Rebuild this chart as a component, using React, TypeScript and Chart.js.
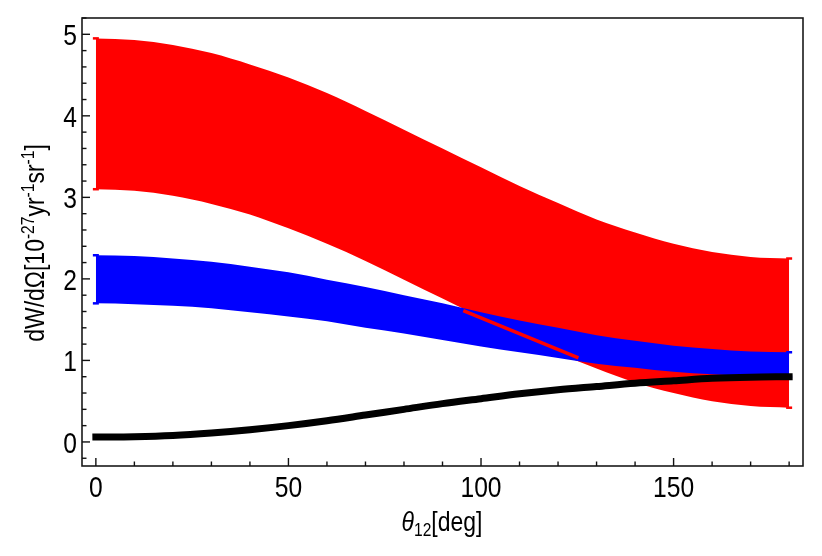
import React, { useEffect, useRef } from "react";
import { Chart, registerables } from "chart.js";

Chart.register(...registerables);

// ---- data ----
const theta = [0, 10, 20, 30, 40, 50, 60, 70, 80, 90, 100, 110, 120, 130, 140, 150, 160, 170, 180];
const redUpper = [4.95, 4.93, 4.87, 4.77, 4.63, 4.47, 4.28, 4.06, 3.83, 3.6, 3.37, 3.14, 2.93, 2.73, 2.57, 2.43, 2.33, 2.27, 2.25];
const redLower = [3.1, 3.08, 3.02, 2.92, 2.79, 2.62, 2.43, 2.22, 1.99, 1.76, 1.53, 1.3, 1.09, 0.9, 0.73, 0.6, 0.5, 0.44, 0.42];
const blueUpper = [2.29, 2.28, 2.25, 2.21, 2.15, 2.08, 1.99, 1.9, 1.8, 1.7, 1.59, 1.49, 1.4, 1.31, 1.24, 1.18, 1.14, 1.11, 1.1];
const blueLower = [1.7, 1.69, 1.67, 1.64, 1.59, 1.54, 1.48, 1.4, 1.33, 1.25, 1.17, 1.1, 1.03, 0.96, 0.91, 0.86, 0.83, 0.81, 0.8];
const blackCurve = [0.06, 0.065, 0.08, 0.11, 0.15, 0.2, 0.26, 0.33, 0.4, 0.47, 0.53, 0.59, 0.64, 0.68, 0.72, 0.75, 0.78, 0.795, 0.8];
const sliverTheta = [95.4, 125.3];
const sliverValues = [1.61, 1.03];

const xTickValues = [0, 50, 100, 150];
const yTickValues = [0, 1, 2, 3, 4, 5];

const FONT = "'Liberation Sans', Arial, sans-serif";
const NARROW = 0.82;
const RED = "#ff0000";
const BLUE = "#0000ff";

const toPts = (xs: number[], ys: number[]) => xs.map((x, i) => ({ x, y: ys[i] }));

type Seg = { t: string; size: number; dy?: number; italic?: boolean };

// draws text horizontally compressed (narrow Helvetica look); align: 0 = left, 0.5 = center, 1 = right
function drawRich(ctx: CanvasRenderingContext2D, segs: Seg[], x0: number, baseY: number, align = 0.5) {
  let total = 0;
  const widths = segs.map((s) => {
    ctx.font = `${s.italic ? "italic " : ""}${s.size}px ${FONT}`;
    const w = ctx.measureText(s.t).width;
    total += w;
    return w;
  });
  ctx.save();
  ctx.translate(x0, baseY);
  ctx.scale(NARROW, 1);
  let x = -total * align;
  ctx.textBaseline = "alphabetic";
  ctx.textAlign = "left";
  segs.forEach((s, i) => {
    ctx.font = `${s.italic ? "italic " : ""}${s.size}px ${FONT}`;
    ctx.fillText(s.t, x, s.dy || 0);
    x += widths[i];
  });
  ctx.restore();
}

const decorPlugin = {
  id: "decor",
  afterDatasetDraw(chart: any, args: any) {
    const ds = chart.data.datasets[args.index] as any;
    if (!ds.capColor) return;
    const { ctx } = chart;
    const xs = chart.scales.x;
    const ys = chart.scales.y;
    const lowerDs = chart.data.datasets[args.index + 1] as any;
    ctx.save();
    ctx.strokeStyle = ds.capColor;
    ctx.lineWidth = 2.5;
    const ends = [0, ds.data.length - 1];
    ends.forEach((i) => {
      const px = xs.getPixelForValue(ds.data[i].x);
      [ds.data[i].y, lowerDs.data[i].y].forEach((v: number) => {
        const py = ys.getPixelForValue(v);
        ctx.beginPath();
        ctx.moveTo(px - 3, py);
        ctx.lineTo(px + 3, py);
        ctx.stroke();
      });
    });
    ctx.restore();
  },
  afterDraw(chart: any) {
    const { ctx, chartArea: a } = chart;
    const xs = chart.scales.x;
    const ys = chart.scales.y;
    ctx.save();
    ctx.strokeStyle = "#1a1a1a";
    ctx.lineWidth = 1.6;
    ctx.strokeRect(a.left, a.top, a.right - a.left, a.bottom - a.top);
    ctx.lineWidth = 1.4;
    ctx.strokeStyle = "#111";
    for (let v = 0; v <= 180; v += 10) {
      const px = xs.getPixelForValue(v);
      const len = v % 50 === 0 ? 8 : 4.5;
      ctx.beginPath();
      ctx.moveTo(px, a.bottom);
      ctx.lineTo(px, a.bottom - len);
      ctx.stroke();
    }
    for (let k = -1; k <= 26; k++) {
      const v = k * 0.2;
      if (v < ys.min || v > ys.max) continue;
      const py = ys.getPixelForValue(v);
      const len = k % 5 === 0 ? 8 : 4.5;
      ctx.beginPath();
      ctx.moveTo(a.left, py);
      ctx.lineTo(a.left + len, py);
      ctx.stroke();
    }
    ctx.fillStyle = "#000";
    // tick labels
    xTickValues.forEach((v) => {
      drawRich(ctx, [{ t: String(v), size: 30 }], xs.getPixelForValue(v), a.bottom + 31, 0.5);
    });
    yTickValues.forEach((v) => {
      drawRich(ctx, [{ t: String(v), size: 30 }], a.left - 5, ys.getPixelForValue(v) + 11, 1);
    });
    // x title
    drawRich(
      ctx,
      [
        { t: "θ", size: 28, italic: true },
        { t: "12", size: 19, dy: 5 },
        { t: "[deg]", size: 28 },
      ],
      442,
      531,
      0.5
    );
    // y title
    ctx.save();
    ctx.translate(44, 243);
    ctx.rotate(-Math.PI / 2);
    drawRich(
      ctx,
      [
        { t: "dW/dΩ[10", size: 28 },
        { t: "-27", size: 19, dy: -10 },
        { t: "yr", size: 28 },
        { t: "-1", size: 19, dy: -10 },
        { t: "sr", size: 28 },
        { t: "-1", size: 19, dy: -10 },
        { t: "]", size: 28 },
      ],
      0,
      0,
      0.5
    );
    ctx.restore();
    ctx.restore();
  },
};

export default function App() {
  const ref = useRef<HTMLCanvasElement | null>(null);
  useEffect(() => {
    document.body.style.margin = "0";
    const canvas = ref.current!;
    const bandLine = { pointRadius: 0, borderWidth: 0, cubicInterpolationMode: "monotone" as const };
    const chart = new Chart(canvas, {
      type: "line",
      data: {
        datasets: [
          {
            label: "black",
            data: toPts(theta, blackCurve),
            borderColor: "#000",
            borderWidth: 7,
            borderCapStyle: "square",
            pointRadius: 0,
            fill: false,
            cubicInterpolationMode: "monotone",
          },
          {
            label: "sliver",
            data: toPts(sliverTheta, sliverValues),
            borderColor: RED,
            borderWidth: 3.5,
            pointRadius: 0,
            fill: false,
          },
          {
            label: "blueUpper",
            data: toPts(theta, blueUpper),
            borderColor: BLUE,
            backgroundColor: BLUE,
            fill: "+1",
            capColor: BLUE,
            ...bandLine,
          } as any,
          {
            label: "blueLower",
            data: toPts(theta, blueLower),
            borderColor: BLUE,
            fill: false,
            ...bandLine,
          },
          {
            label: "redUpper",
            data: toPts(theta, redUpper),
            borderColor: RED,
            backgroundColor: RED,
            fill: "+1",
            capColor: RED,
            ...bandLine,
          } as any,
          {
            label: "redLower",
            data: toPts(theta, redLower),
            borderColor: RED,
            fill: false,
            ...bandLine,
          },
        ],
      },
      options: {
        responsive: false,
        animation: false,
        devicePixelRatio: 1,
        layout: { padding: { top: 18, right: 19, left: 0, bottom: 0 } },
        plugins: { legend: { display: false }, tooltip: { enabled: false } },
        scales: {
          x: {
            type: "linear",
            min: -3.6,
            max: 183.6,
            grid: { display: false },
            border: { display: false },
            afterFit: (s: any) => {
              s.height = 90;
            },
            ticks: { display: false },
          },
          y: {
            type: "linear",
            min: -0.295,
            max: 5.2,
            grid: { display: false },
            border: { display: false },
            afterFit: (s: any) => {
              s.width = 82;
            },
            ticks: { display: false },
          },
        },
      },
      plugins: [decorPlugin],
    });
    return () => chart.destroy();
  }, []);
  return (
    <div style={{ width: 822, height: 556 }}>
      <canvas ref={ref} width={822} height={556} style={{ display: "block" }} />
    </div>
  );
}
